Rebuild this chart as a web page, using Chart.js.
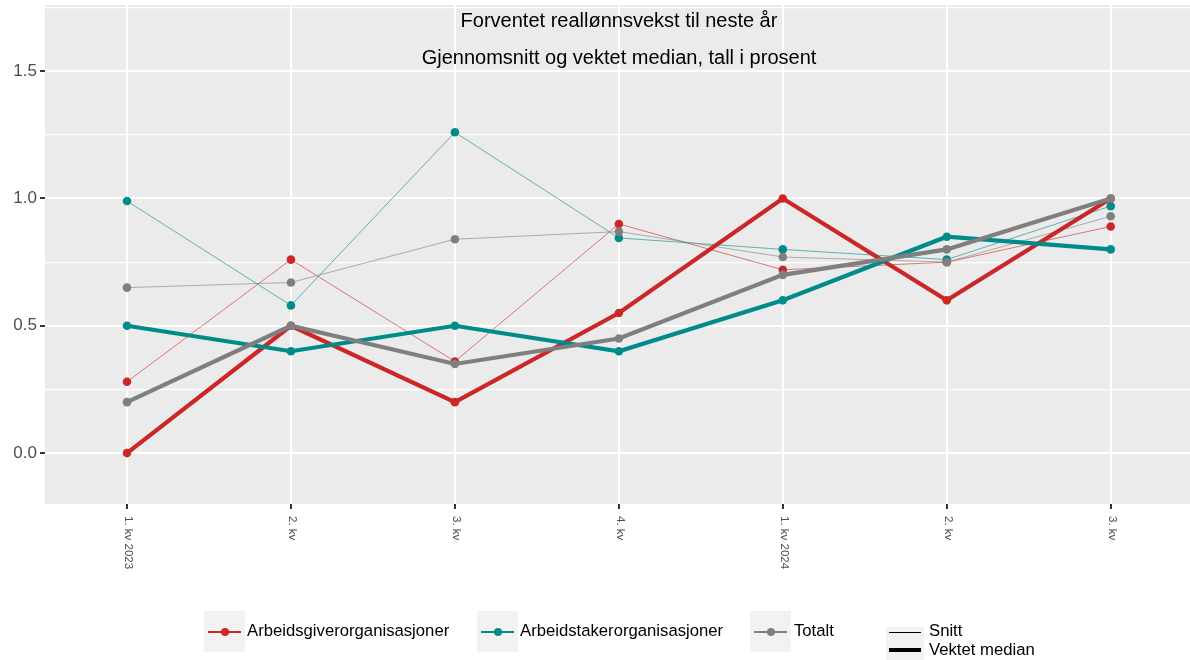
<!DOCTYPE html>
<html>
<head>
<meta charset="utf-8">
<script src="https://cdn.jsdelivr.net/npm/chart.js@4.4.1/dist/chart.umd.min.js"></script>
<style>
  html, body { margin: 0; padding: 0; background: #fff; overflow: hidden; }
  #wrap { position: relative; width: 1190px; height: 660px; overflow: hidden; }
  #chart { position: absolute; left: 0; top: 0; }
  .key { position: absolute; background: #F2F2F2; }
  .key .ln { position: absolute; left: 4px; right: 4px; }
  .key .dot { position: absolute; width: 8px; height: 8px; border-radius: 50%; left: 50%; margin-left: -4px; }
  .lab { position: absolute; font-family: "Liberation Sans", Arial, sans-serif; font-size: 16.7px; color: #000; line-height: 20px; white-space: nowrap; }
</style>
</head>
<body>
<div id="wrap">
  <canvas id="chart" width="1197" height="660"></canvas>

  <div class="key" style="left:204px;top:611px;width:41px;height:41px;">
    <div class="ln" style="top:20px;height:2px;background:#CD2626"></div>
    <div class="dot" style="top:17px;background:#CD2626"></div>
  </div>
  <div class="lab" style="left:247px;top:621px;">Arbeidsgiverorganisasjoner</div>

  <div class="key" style="left:477px;top:611px;width:41px;height:41px;">
    <div class="ln" style="top:20px;height:2px;background:#008B8B"></div>
    <div class="dot" style="top:17px;background:#008B8B"></div>
  </div>
  <div class="lab" style="left:520px;top:621px;">Arbeidstakerorganisasjoner</div>

  <div class="key" style="left:750px;top:611px;width:41px;height:41px;">
    <div class="ln" style="top:20px;height:2px;background:#7F7F7F"></div>
    <div class="dot" style="top:17px;background:#7F7F7F"></div>
  </div>
  <div class="lab" style="left:794px;top:621px;">Totalt</div>

  <div class="key" style="left:886px;top:627px;width:38px;height:33px;">
    <div class="ln" style="left:3px;right:3px;top:5px;height:1px;background:#000"></div>
    <div class="ln" style="left:3px;right:3px;top:21px;height:4px;background:#000"></div>
  </div>
  <div class="lab" style="left:929px;top:621px;">Snitt</div>
  <div class="lab" style="left:929px;top:640px;">Vektet median</div>
</div>

<script>
// kvartaler
const kvartaler = ['1. kv 2023', '2. kv', '3. kv', '4. kv', '1. kv 2024', '2. kv', '3. kv'];

// vektet median (tykke linjer)
const medianGiver = [0, 0.5, 0.2, 0.55, 1.0, 0.6, 1.0];
const medianTaker = [0.5, 0.4, 0.5, 0.4, 0.6, 0.85, 0.8];
const medianTotalt = [0.2, 0.5, 0.35, 0.45, 0.7, 0.8, 1.0];

// snitt (tynne linjer)
const snittGiver = [0.28, 0.76, 0.36, 0.9, 0.72, 0.75, 0.89];
const snittTaker = [0.99, 0.58, 1.26, 0.845, 0.8, 0.76, 0.97];
const snittTotalt = [0.65, 0.67, 0.84, 0.87, 0.77, 0.75, 0.93];

// y-akse
const yTicks = [0, 0.25, 0.5, 0.75, 1.0, 1.25, 1.5, 1.75];
const yMajor = [0, 0.5, 1.0, 1.5];

const tittel = ['Forventet reallønnsvekst til neste år', 'Gjennomsnitt og vektet median, tall i prosent'];

const RED = '#CD2626', TEAL = '#008B8B', GREY = '#7F7F7F';
const FONT = '"Liberation Sans", Arial, sans-serif';

function isMajor(v) {
    return yMajor.some(m => Math.abs(m - v) < 1e-6);
}

function serie(label, data, color, thick, order) {
    return {
        label: label,
        data: data,
        borderColor: thick ? color : color + '99',
        backgroundColor: color,
        borderWidth: thick ? 4.2 : 1,
        pointRadius: 4.3,
        pointBorderWidth: 0,
        pointBackgroundColor: color,
        tension: 0,
        order: order,
    };
}

const panelPlugin = {
    id: 'panel',
    beforeDraw(chart) {
        const { ctx, chartArea: a } = chart;
        ctx.save();
        ctx.fillStyle = '#EBEBEB';
        ctx.fillRect(a.left, a.top, a.right - a.left, a.bottom - a.top);
        ctx.restore();
    },
    afterDraw(chart) {
        const { ctx, chartArea: a } = chart;
        const xs = chart.scales.x;
        ctx.save();
        // tittel inne i panelet
        ctx.fillStyle = '#000';
        ctx.font = '20px ' + FONT;
        ctx.textAlign = 'center';
        ctx.textBaseline = 'middle';
        const cx = (a.left + 1193) / 2;
        ctx.fillText(tittel[0], cx, 21);
        ctx.fillText(tittel[1], cx, 58);
        // x-etiketter, rotert med klokka
        ctx.fillStyle = '#4D4D4D';
        ctx.font = '11.5px ' + FONT;
        ctx.textAlign = 'left';
        kvartaler.forEach((lab, i) => {
            const x = xs.getPixelForTick(i);
            ctx.save();
            ctx.translate(x + 1, a.bottom + 12);
            ctx.rotate(Math.PI / 2);
            ctx.fillText(lab, 0, 0);
            ctx.restore();
        });
        ctx.restore();
    }
};

document.addEventListener('DOMContentLoaded', () => {
    const ctx = document.getElementById('chart').getContext('2d');

    new Chart(ctx, {
        type: 'line',
        data: {
            labels: kvartaler,
            datasets: [
                serie('Arbeidsgiverorganisasjoner snitt', snittGiver, RED, false, 5),
                serie('Arbeidstakerorganisasjoner snitt', snittTaker, TEAL, false, 4),
                serie('Totalt snitt', snittTotalt, GREY, false, 3),
                serie('Arbeidsgiverorganisasjoner median', medianGiver, RED, true, 2),
                serie('Arbeidstakerorganisasjoner median', medianTaker, TEAL, true, 1),
                serie('Totalt median', medianTotalt, GREY, true, 0),
            ],
        },
        options: {
            responsive: false,
            animation: false,
            devicePixelRatio: 1,
            layout: { padding: { top: 5, left: 0, right: 0, bottom: 0 } },
            plugins: {
                legend: { display: false },
                tooltip: { enabled: false },
                title: { display: false },
            },
            scales: {
                x: {
                    type: 'category',
                    offset: true,
                    ticks: { display: false },
                    grid: {
                        offset: false,
                        color: '#FFFFFF',
                        lineWidth: 2,
                        tickColor: '#333333',
                        tickLength: 5,
                    },
                    border: { display: false },
                    afterFit(s) { s.height = 156; s.paddingLeft = 0; s.paddingRight = 0; },
                },
                y: {
                    min: -0.2,
                    max: 1.76,
                    afterBuildTicks(s) { s.ticks = yTicks.map(v => ({ value: v })); },
                    ticks: {
                        autoSkip: false,
                        padding: 3,
                        color: '#4D4D4D',
                        font: { family: FONT, size: 17 },
                        callback: v => isMajor(v) ? v.toFixed(1) : '',
                    },
                    grid: {
                        color: '#FFFFFF',
                        lineWidth: c => isMajor(c.tick.value) ? 2 : 1.2,
                        tickColor: c => isMajor(c.tick.value) ? '#333333' : 'rgba(0,0,0,0)',
                        tickLength: 5,
                    },
                    border: { display: false },
                    afterFit(s) { s.width = 45; s.paddingTop = 0; s.paddingBottom = 0; },
                },
            },
        },
        plugins: [panelPlugin],
    });
});
</script>
</body>
</html>
